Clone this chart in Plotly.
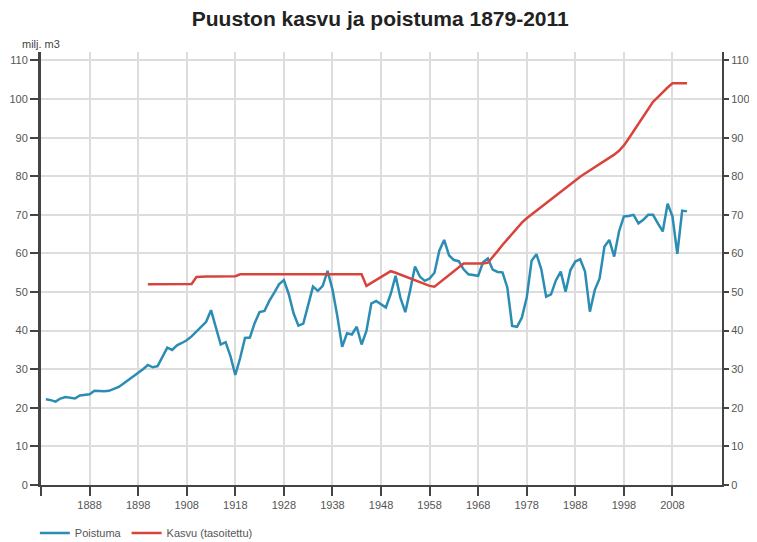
import plotly.graph_objects as go

# Poistuma (removals), 1879-2011, milj. m3
poistuma_years = list(range(1879, 2012))
poistuma = [
    22.2, 22.0, 21.6, 22.4, 22.8, 22.6, 22.4, 23.2, 23.4, 23.5,   # 1879-1888
    24.4, 24.3, 24.3, 24.4, 24.8, 25.4, 26.3, 27.2, 28.3, 29.1,   # 1889-1898
    30.0, 31.1, 30.5, 30.8, 33.2, 35.6, 35.0, 36.2, 36.8, 37.5,   # 1899-1908
    38.5, 39.8, 41.0, 42.3, 45.3, 40.5, 36.4, 37.0, 33.4, 28.5,   # 1909-1918
    32.9, 38.1, 38.2, 42.0, 44.8, 45.1, 47.7, 49.8, 52.0, 53.1,   # 1919-1928
    49.5, 44.5, 41.3, 41.8, 46.4, 51.4, 50.3, 51.6, 55.5, 50.7,   # 1929-1938
    43.8, 35.8, 39.3, 39.0, 41.0, 36.4, 39.9, 47.0, 47.7, 46.8,   # 1939-1948
    46.0, 49.5, 54.2, 48.5, 44.8, 50.5, 56.6, 54.0, 52.9, 53.5,   # 1949-1958
    55.0, 60.7, 63.5, 59.5, 58.3, 58.0, 55.9, 54.6, 54.4, 54.2,   # 1959-1968
    57.7, 58.7, 55.8, 55.2, 55.1, 51.2, 41.2, 41.0, 43.4, 48.6,   # 1969-1978
    58.1, 59.8, 55.9, 48.8, 49.4, 53.0, 55.3, 50.1, 55.7, 57.9,   # 1979-1988
    58.5, 55.3, 44.9, 50.5, 53.5, 61.8, 63.5, 59.2, 65.7, 69.6,   # 1989-1998
    69.7, 70.0, 67.8, 68.7, 70.0, 70.0, 67.8, 65.7, 72.9, 69.6,   # 1999-2008
    59.9, 71.1, 70.9,                                             # 2009-2011
]

# Kasvu (tasoitettu) (smoothed growth), 1900-2011, milj. m3
kasvu_years = list(range(1900, 2012))
kasvu = [
    52.0, 52.0, 52.0, 52.0, 52.0, 52.0, 52.0, 52.0, 52.0, 52.1,   # 1900-1909
    53.9, 54.0, 54.0, 54.0, 54.0, 54.0, 54.0, 54.0, 54.1, 54.6,   # 1910-1919
    54.6, 54.6, 54.6, 54.6, 54.6, 54.6, 54.6, 54.6, 54.6, 54.6,   # 1920-1929
    54.6, 54.6, 54.6, 54.6, 54.6, 54.6, 54.6, 54.6, 54.6, 54.6,   # 1930-1939
    54.6, 54.6, 54.6, 54.6, 54.6, 51.6, 52.4, 53.2, 54.0, 54.8,   # 1940-1949
    55.4, 55.0, 54.5, 54.0, 53.6, 53.1, 52.6, 52.2, 51.6, 51.4,   # 1950-1959
    52.4, 53.4, 54.4, 55.4, 56.5, 57.4, 57.4, 57.4, 57.4, 57.4,   # 1960-1969
    57.6, 59.0, 60.6, 62.2, 63.6, 65.2, 66.6, 68.0, 69.1, 70.1,   # 1970-1979
    71.0, 72.0, 73.0, 74.0, 75.0, 76.1, 77.1, 78.1, 79.0, 79.9,   # 1980-1989
    80.7, 81.5, 82.3, 83.1, 84.0, 84.8, 85.6, 86.6, 88.0, 89.8,   # 1990-1999
    91.7, 93.6, 95.5, 97.4, 99.3, 100.5, 101.8, 103.0, 104.1, 104.1,  # 2000-2009
    104.1, 104.1,                                                 # 2010-2011
]

x_tickvals = [1878, 1888, 1898, 1908, 1918, 1928, 1938, 1948, 1958, 1968, 1978, 1988, 1998, 2008]
x_ticktext = ["", "1888", "1898", "1908", "1918", "1928", "1938", "1948", "1958", "1968", "1978", "1988", "1998", "2008"]
y_tickvals = [0, 10, 20, 30, 40, 50, 60, 70, 80, 90, 100, 110]

BLUE = "#2b8cb4"
RED = "#d8443c"
AXIS = "#444444"
GRID = "#dddddd"
FONT = "Liberation Sans, Arial, sans-serif"

fig = go.Figure()
fig.add_trace(go.Scatter(x=poistuma_years, y=poistuma, mode="lines", name="Poistuma",
                         line=dict(color=BLUE, width=2.5)))
fig.add_trace(go.Scatter(x=kasvu_years, y=kasvu, mode="lines", name="Kasvu (tasoitettu)",
                         line=dict(color=RED, width=2.5), yaxis="y2"))

yrange = [0, 112.2]
# page body has an 8px margin, so the figure is sized to fit the window exactly
fig.update_layout(
    width=749, height=534,
    margin=dict(l=33, r=35, t=44, b=57, autoexpand=False),
    paper_bgcolor="white", plot_bgcolor="white",
    font=dict(family=FONT, size=11, color="#555555"),
    title=dict(text="<b>Puuston kasvu ja poistuma 1879-2011</b>", x=0.497, xanchor="center",
               y=1 - 11 / 534, yanchor="middle",
               font=dict(family=FONT, size=21, color="#222222")),
    xaxis=dict(range=[1878, 2018.2], tickvals=x_tickvals, ticktext=x_ticktext,
               showgrid=True, gridcolor=GRID, gridwidth=1.5,
               showline=True, linecolor=AXIS, linewidth=2,
               ticks="outside", ticklen=9, tickwidth=1.5, tickcolor=AXIS,
               zeroline=False, tickfont=dict(size=11, color="#555555")),
    yaxis=dict(range=yrange, tickvals=y_tickvals,
               showgrid=True, gridcolor=GRID, gridwidth=1.5,
               showline=True, linecolor=AXIS, linewidth=3,
               ticks="outside", ticklen=8, tickwidth=1.5, tickcolor=AXIS,
               zeroline=False, tickfont=dict(size=11, color="#555555")),
    yaxis2=dict(range=yrange, tickvals=y_tickvals, overlaying="y", side="right",
                showgrid=False, showline=True, linecolor=AXIS, linewidth=2,
                ticks="outside", ticklen=5, tickwidth=1.5, tickcolor=AXIS,
                zeroline=False, tickfont=dict(size=11, color="#555555")),
    legend=dict(orientation="h", x=-0.009, xanchor="left", y=-0.111, yanchor="middle",
                font=dict(size=11, color="#555555"), itemwidth=30,
                bgcolor="rgba(0,0,0,0)"),
    annotations=[dict(text="milj. m3", xref="paper", yref="paper", x=-0.031, y=1.0,
                      xanchor="left", yanchor="bottom", showarrow=False,
                      font=dict(size=11, color="#444444"))],
)

fig.write_html("out.html")
